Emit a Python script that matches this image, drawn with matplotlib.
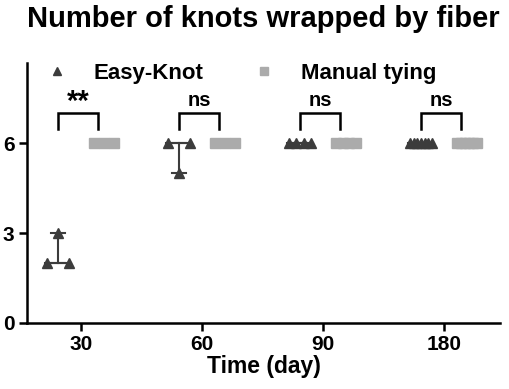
#!/usr/bin/env python3
"""Number of knots wrapped by fiber, Easy-Knot vs manual tying."""

import numpy as np
import matplotlib.pyplot as plt
from matplotlib.lines import Line2D

plt.rcParams.update({"font.family": "Liberation Sans", "font.weight": "bold"})

# data
days = ["30", "60", "90", "180"]
easy_knot = [[2, 3, 2], [6, 5, 6], [6, 6, 6, 6], [6, 6, 6, 6, 6, 6, 6]]
manual = [[6, 6, 6], [6, 6, 6], [6, 6, 6, 6], [6, 6, 6, 6, 6, 6]]
signif = ["**", "ns", "ns", "ns"]

dark = "#3c3c3c"
light = "#ababab"
lw = 1.8

fig = plt.figure(figsize=(5.1, 3.89), dpi=100)
ax = fig.add_axes([27 / 510, 1 - 323 / 389, 473 / 510, 260 / 389])

xpos = np.arange(len(days))
off = 0.19


def draw_group(x, vals, marker, color, ms, spread):
    """Scatter points with median and range."""
    vals = np.asarray(vals, dtype=float)
    xs = x + np.linspace(-spread, spread, len(vals))
    med = np.median(vals)
    lo, hi = vals.min(), vals.max()
    ax.plot([x, x], [lo, hi], color=color, lw=1.5, zorder=2)
    ax.plot([x - 0.11, x + 0.11], [med, med], color=color, lw=1.5, zorder=2)
    for v in (lo, hi):
        ax.plot([x - 0.055, x + 0.055], [v, v], color=color, lw=1.5, zorder=2)
    ax.plot(xs, vals, ls="none", marker=marker, color=color, ms=ms,
            mec=color, zorder=3)


for i, x in enumerate(xpos):
    draw_group(x - off, easy_knot[i], "^", dark, 7.5, 0.09)
    draw_group(x + off, manual[i], "s", light, 7.0, 0.085)
    # significance bracket
    x0, x1 = x - off + 0.0, x + off - 0.05
    ax.plot([x0, x0, x1, x1], [6.47, 7.0, 7.0, 6.47], color="black",
            lw=lw, solid_joinstyle="miter", zorder=2)
    if signif[i] == "**":
        ax.text((x0 + x1) / 2, 7.12, signif[i], ha="center", va="baseline",
                fontsize=21, fontweight="bold")
    else:
        ax.text((x0 + x1) / 2, 7.22, signif[i], ha="center", va="baseline",
                fontsize=14.5, fontweight="bold")

ax.set_xlim(-0.446, 3.463)
ax.set_ylim(0, 8.67)
ax.set_xticks(xpos)
ax.set_xticklabels(days)
ax.set_yticks([0, 3, 6])
ax.tick_params(width=lw, length=6, labelsize=15, pad=3)
for s in ("top", "right"):
    ax.spines[s].set_visible(False)
for s in ("left", "bottom"):
    ax.spines[s].set_linewidth(lw)
ax.set_xlabel("Time (day)", fontsize=16.5, fontweight="bold", labelpad=0)

handles = [Line2D([], [], ls="none", marker="^", color=dark, ms=6),
           Line2D([], [], ls="none", marker="s", color=light, ms=6)]
ax.legend(handles, ["Easy-Knot", "Manual tying"], ncol=2, frameon=False,
          loc="center left", bbox_to_anchor=(0.004, 0.96), handlelength=1.5,
          handletextpad=0.9, columnspacing=2.0, borderpad=0,
          prop={"size": 16, "weight": "bold"})

fig.text(263.5 / 510, 1 - 27 / 389, "Number of knots wrapped by fiber",
         ha="center", va="baseline", fontsize=21, fontweight="bold")

plt.savefig("out.png", dpi=100)
